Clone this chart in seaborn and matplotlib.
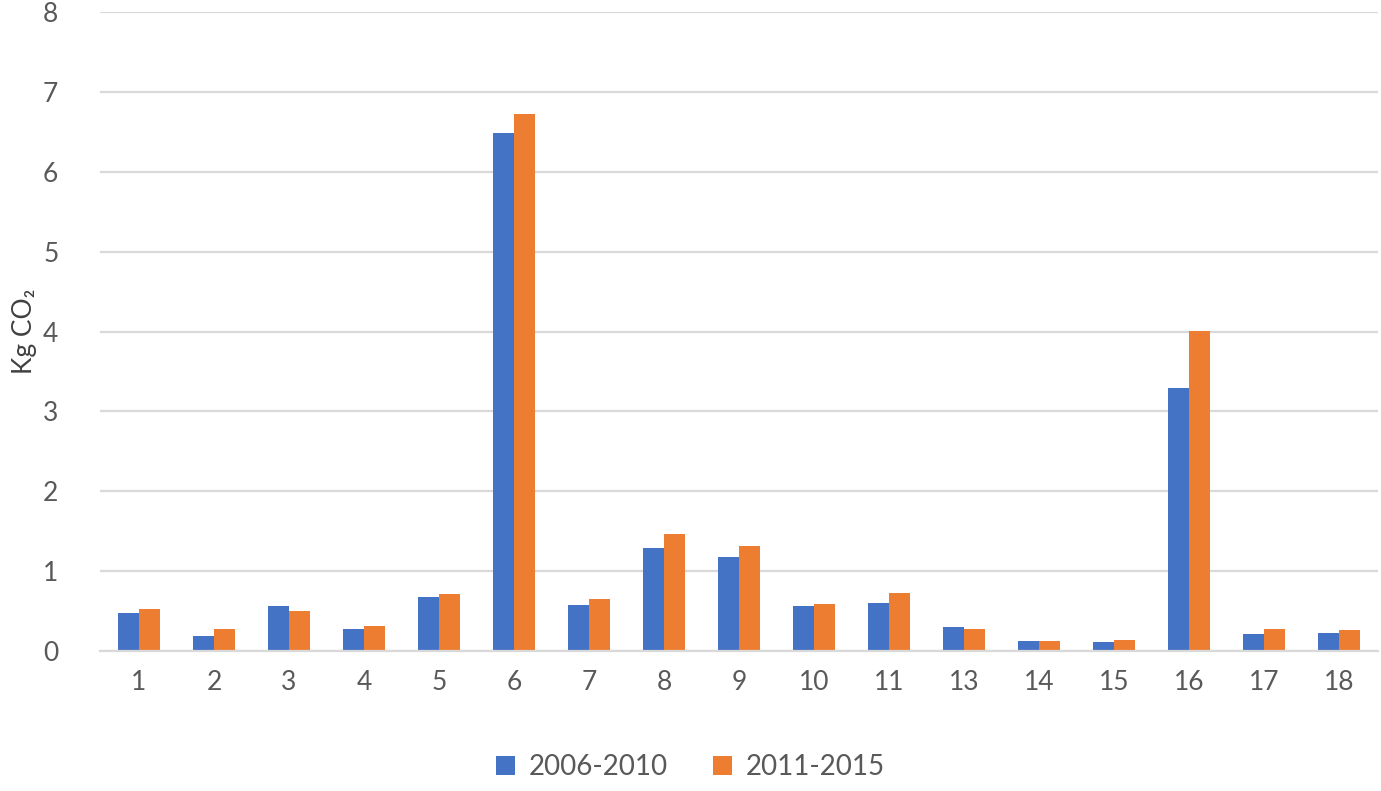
import matplotlib
matplotlib.use("Agg")
import matplotlib.pyplot as plt
import seaborn as sns
import pandas as pd
from matplotlib.patches import Patch

categories = ["1", "2", "3", "4", "5", "6", "7", "8", "9", "10", "11", "13", "14", "15", "16", "17", "18"]
series_a = [0.47, 0.19, 0.56, 0.27, 0.67, 6.49, 0.57, 1.29, 1.18, 0.56, 0.60, 0.30, 0.125, 0.11, 3.29, 0.21, 0.225]
series_b = [0.52, 0.27, 0.50, 0.31, 0.71, 6.72, 0.65, 1.46, 1.31, 0.59, 0.72, 0.27, 0.12, 0.14, 4.01, 0.28, 0.26]
series_names = ["2006-2010", "2011-2015"]
colors = ["#4472C4", "#ED7D31"]

df = pd.DataFrame({
    "cat": categories * 2,
    "val": series_a + series_b,
    "series": [series_names[0]] * len(categories) + [series_names[1]] * len(categories),
})

sns.set_theme(style="white")
plt.rcParams["font.family"] = ["Lato", "DejaVu Sans"]

fig = plt.figure(figsize=(13.81, 7.91), dpi=100)
ax = fig.add_axes([100 / 1381, 1 - 651 / 791, 1278 / 1381, 639 / 791])

sns.barplot(data=df, x="cat", y="val", hue="series", palette=colors, width=0.56,
            gap=0, order=categories, hue_order=series_names, ax=ax,
            saturation=1, legend=False, linewidth=0, edgecolor="none")

ax.set_ylim(0, 8)
ax.set_xlim(-0.52, len(categories) - 0.48)
ax.set_yticks(range(0, 9))
ax.yaxis.grid(True, color="#d9d9d9", linewidth=1.6)
ax.set_axisbelow(True)
for s in ["top", "right", "left"]:
    ax.spines[s].set_visible(False)
ax.spines["bottom"].set_color("#d9d9d9")
ax.spines["bottom"].set_linewidth(1.6)
ax.tick_params(axis="both", length=0, labelsize=19, labelcolor="#595959")
ax.tick_params(axis="y", pad=30)
ax.tick_params(axis="x", pad=14)
ax.set_xlabel("")
ax.set_ylabel("Kg CO₂", fontsize=19, color="#404040", labelpad=4)

handles = [Patch(facecolor=c, edgecolor="none") for c in colors]
fig.legend(handles, series_names, loc="lower center", bbox_to_anchor=(0.5, -0.018),
           ncol=2, frameon=False, fontsize=20, labelcolor="#595959",
           handlelength=0.7, handleheight=0.7, handletextpad=0.5, columnspacing=1.6)

fig.savefig("out.png", dpi=100)
